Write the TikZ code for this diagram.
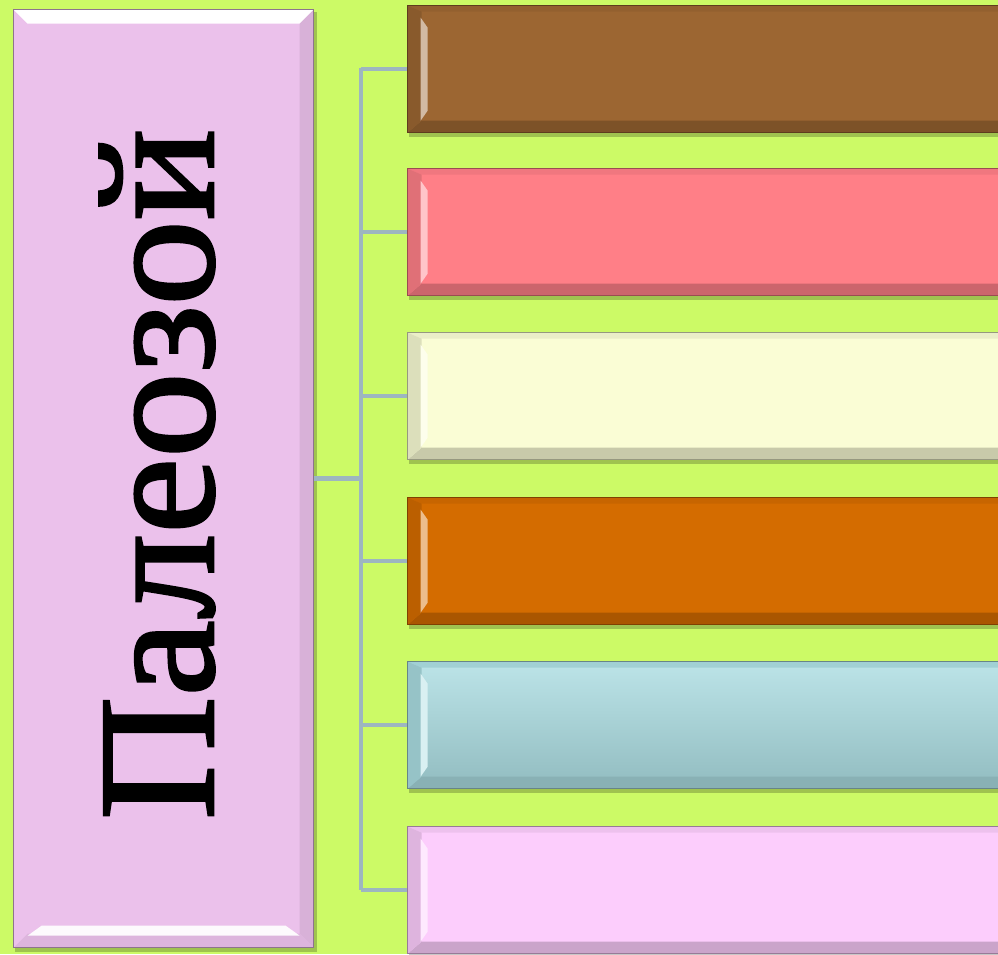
\documentclass[tikz,border=0pt]{standalone}
\usepackage{fontspec}
\setmainfont{Liberation Serif}
\newfontfamily\titlefont[FakeBold=1.6]{Liberation Serif}
\usetikzlibrary{calc,backgrounds}
\definecolor{bgc}{HTML}{CCFA66}
\definecolor{lbox}{HTML}{EBC1EB}
\definecolor{linec}{HTML}{9DB6C0}
\definecolor{cA}{HTML}{9C6632}
\definecolor{cB}{HTML}{FF7F87}
\definecolor{cC}{HTML}{FAFDD5}
\definecolor{cD}{HTML}{D46C00}
\definecolor{cE}{HTML}{ABDDE2}
\definecolor{cF}{HTML}{FCCDFC}
\tikzset{
  conn/.style={draw=linec, line width=4.5pt},
  rbox/.style={fill=#1, draw=#1!60!black, line width=1.3pt, inner sep=0,
    minimum width=610pt, minimum height=127pt, anchor=north west,
    path picture={
      \fill[#1!94!black] (path picture bounding box.north west) -- (path picture bounding box.north east)
        -- ([xshift=-10pt,yshift=-6pt]path picture bounding box.north east)
        -- ([xshift=14pt,yshift=-6pt]path picture bounding box.north west) -- cycle;
      \fill[#1!80!black] (path picture bounding box.south west) -- (path picture bounding box.south east)
        -- ([xshift=-10pt,yshift=12pt]path picture bounding box.south east)
        -- ([xshift=14pt,yshift=12pt]path picture bounding box.south west) -- cycle;
      \fill[#1!88!black] (path picture bounding box.north west) -- (path picture bounding box.south west)
        -- ([xshift=14pt,yshift=12pt]path picture bounding box.south west)
        -- ([xshift=14pt,yshift=-6pt]path picture bounding box.north west) -- cycle;
      \fill[#1!45!white] ([xshift=13pt,yshift=-12pt]path picture bounding box.north west)
        -- ([xshift=20pt,yshift=-22pt]path picture bounding box.north west)
        -- ([xshift=20pt,yshift=22pt]path picture bounding box.south west)
        -- ([xshift=13pt,yshift=12pt]path picture bounding box.south west) -- cycle;
    }},
  lboxst/.style={fill=lbox, draw=lbox!60!black, line width=1.3pt, inner sep=0,
    minimum width=300pt, minimum height=938pt, anchor=north west,
    path picture={
      \shade[top color=white, bottom color=lbox!75!white] (path picture bounding box.north west) -- (path picture bounding box.north east)
        -- ([xshift=-14pt,yshift=-14pt]path picture bounding box.north east)
        -- ([xshift=14pt,yshift=-14pt]path picture bounding box.north west) -- cycle;
      \fill[lbox!92!black] (path picture bounding box.north east) -- (path picture bounding box.south east)
        -- ([xshift=-14pt,yshift=14pt]path picture bounding box.south east)
        -- ([xshift=-14pt,yshift=-14pt]path picture bounding box.north east) -- cycle;
      \fill[lbox!94!black] (path picture bounding box.south west) -- (path picture bounding box.south east)
        -- ([xshift=-14pt,yshift=14pt]path picture bounding box.south east)
        -- ([xshift=14pt,yshift=14pt]path picture bounding box.south west) -- cycle;
      \fill[white!92!lbox] ([xshift=28pt,yshift=22pt]path picture bounding box.south west)
        -- ([xshift=-28pt,yshift=22pt]path picture bounding box.south east)
        -- ([xshift=-14pt,yshift=12pt]path picture bounding box.south east)
        -- ([xshift=14pt,yshift=12pt]path picture bounding box.south west) -- cycle;
    }},
  shd/.style={fill=black, opacity=0.22}
}
\begin{document}
\begin{tikzpicture}[x=1pt,y=-1pt]
\useasboundingbox (0,0) rectangle (998,954);
\clip (0,0) rectangle (998,954);
% boxes
\node[lboxst] (L) at (13,9) {};
\node[rbox=cA] (r1) at (407,5) {};
\node[rbox=cB] (r2) at (407,168) {};
\node[rbox=cC] (r3) at (407,332) {};
\node[rbox=cD] (r4) at (407,497) {};
\node[rbox=cE, top color=cE!80!white, bottom color=cE!85!black] (r5) at (407,661) {};
\node[rbox=cF] (r6) at (407,826) {};
\node[rotate=90, anchor=base west, inner sep=0, xscale=1.03] (T) at (213,820) {\titlefont\fontsize{166}{166}\selectfont Палеозой};
\coordinate (trunktop) at (361,68);
\coordinate (trunkbot) at (361,890);
\begin{scope}[on background layer]
\fill[bgc] (0,0) rectangle (998,954);
\foreach \n in {L,r1,r2,r3,r4,r5,r6}{
  \fill[shd] ([shift={(2,3)}]\n.north west) rectangle ([shift={(3,4)}]\n.south east);
}
\draw[conn] (L.east) -- (L.east -| trunktop);
\draw[conn] (trunktop) -- (trunkbot);
\foreach \n in {r1,r2,r3,r4,r5,r6}{
  \draw[conn] (trunktop |- \n.west) -- (\n.west);
}
\end{scope}
\end{tikzpicture}
\end{document}
